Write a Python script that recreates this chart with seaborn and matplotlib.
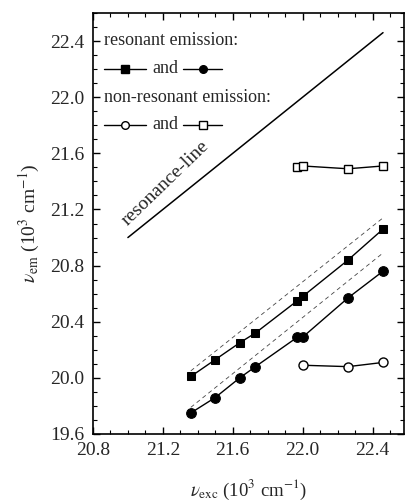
import matplotlib
matplotlib.use("Agg")
import matplotlib.pyplot as plt
import seaborn as sns
import pandas as pd
import numpy as np
from matplotlib.ticker import MultipleLocator

sns.set_theme(style="ticks")
plt.rcParams['font.family'] = ['Liberation Serif', 'DejaVu Serif']
plt.rcParams['mathtext.fontset'] = 'stix'

# resonant emission, filled squares
sq_x = [21.36, 21.50, 21.64, 21.73, 21.97, 22.00, 22.26, 22.46]
sq_y = [20.01, 20.13, 20.25, 20.32, 20.55, 20.58, 20.84, 21.06]
# resonant emission, filled circles
ci_x = [21.36, 21.50, 21.64, 21.73, 21.97, 22.00, 22.26, 22.46]
ci_y = [19.75, 19.86, 20.00, 20.08, 20.29, 20.29, 20.57, 20.76]
# non-resonant emission, open circles
oc_x = [22.00, 22.26, 22.46]
oc_y = [20.09, 20.08, 20.11]
# non-resonant emission, open squares
os_x = [21.97, 22.00, 22.26, 22.46]
os_y = [21.50, 21.51, 21.49, 21.51]
# resonance line
res_x = [21.0, 22.46]
res_y = [21.0, 22.46]
# dashed guide lines
d1_x = [21.36, 22.46]
d1_y = [20.05, 21.14]
d2_x = [21.36, 22.46]
d2_y = [19.79, 20.89]

fig = plt.figure(figsize=(4.06, 5.0), dpi=100)
ax = fig.add_axes([0.229, 0.132, 0.766, 0.842])

lw = 1.0
sns.lineplot(x=res_x, y=res_y, ax=ax, color='black', lw=1.1, sort=False)
sns.lineplot(x=d1_x, y=d1_y, ax=ax, color='#444444', lw=0.6, ls=(0, (5, 4)), sort=False)
sns.lineplot(x=d2_x, y=d2_y, ax=ax, color='#444444', lw=0.6, ls=(0, (5, 4)), sort=False)
sns.lineplot(x=sq_x, y=sq_y, ax=ax, color='black', lw=lw, marker='s', ms=6,
             mfc='black', mec='black', sort=False)
sns.lineplot(x=ci_x, y=ci_y, ax=ax, color='black', lw=lw, marker='o', ms=7,
             mfc='black', mec='black', sort=False)
sns.lineplot(x=oc_x, y=oc_y, ax=ax, color='black', lw=lw, marker='o', ms=6.5,
             mfc='white', mec='black', mew=1.0, sort=False)
sns.lineplot(x=os_x, y=os_y, ax=ax, color='black', lw=lw, marker='s', ms=6,
             mfc='white', mec='black', mew=1.0, sort=False)

ax.set_xlim(20.8, 22.58)
ax.set_ylim(19.6, 22.6)
ax.xaxis.set_major_locator(MultipleLocator(0.4))
ax.xaxis.set_minor_locator(MultipleLocator(0.1))
ax.yaxis.set_major_locator(MultipleLocator(0.4))
ax.yaxis.set_minor_locator(MultipleLocator(0.1))
ax.xaxis.set_major_formatter(matplotlib.ticker.FormatStrFormatter('%.1f'))
ax.yaxis.set_major_formatter(matplotlib.ticker.FormatStrFormatter('%.1f'))
ax.tick_params(which='both', direction='in', top=True, right=True, color='black')
ax.tick_params(which='major', length=5, width=1.0, labelsize=14, pad=6)
ax.tick_params(which='minor', length=3, width=0.8)
for s in ax.spines.values():
    s.set_color('black')
    s.set_linewidth(1.2)

ax.set_xlabel(r'$\nu_{\rm exc}$ (10$^3$ cm$^{-1}$)', fontsize=13.5, labelpad=13)
ax.set_ylabel(r'$\nu_{\rm em}$ (10$^3$ cm$^{-1}$)', fontsize=14, labelpad=6)

ax.text(21.0, 21.08, 'resonance-line', rotation=44, rotation_mode='anchor',
        ha='left', va='baseline', fontsize=14)

# legend-like annotations
tf = ax.transAxes
ax.text(0.035, 0.935, 'resonant emission:', transform=tf, fontsize=13, va='center')
ax.text(0.035, 0.80, 'non-resonant emission:', transform=tf, fontsize=13, va='center')

def sample(y, marker, fc, x0, w):
    ax.plot([x0, x0 + w], [y, y], transform=tf, color='black', lw=lw,
            clip_on=False)
    ax.plot([x0 + w / 2], [y], transform=tf, marker=marker, ms=5.5,
            mfc=fc, mec='black', color='black', clip_on=False)

for y, specs in [(0.867, [('s', 'black'), ('o', 'black')]),
                 (0.735, [('o', 'white'), ('s', 'white')])]:
    sample(y, specs[0][0], specs[0][1], 0.035, 0.135)
    ax.text(0.19, y, 'and', transform=tf, fontsize=13, va='center')
    sample(y, specs[1][0], specs[1][1], 0.29, 0.125)

fig.savefig('out.png', dpi=100)
